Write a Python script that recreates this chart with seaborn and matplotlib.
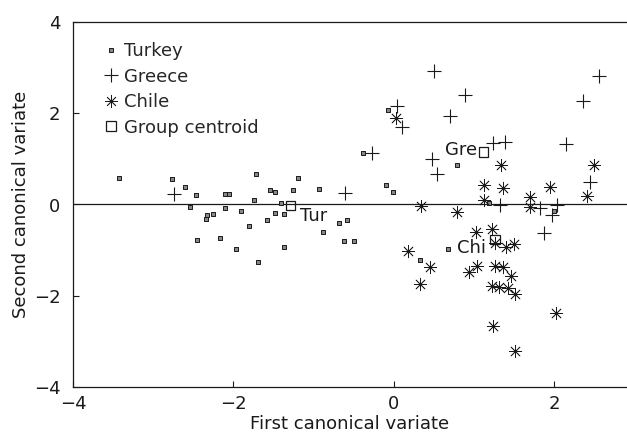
import numpy as np
import pandas as pd
import seaborn as sns
import matplotlib.pyplot as plt
from matplotlib.lines import Line2D

# values
turkey_x = [-3.43, -2.76, -2.61, -2.47, -2.54, -2.33, -2.26, -2.34, -2.11, -2.06,
            -2.11, -1.90, -1.72, -1.74, -1.55, -1.48, -1.26, -1.19, -0.94, -1.41,
            -1.48, -1.37, -1.58, -1.81, -2.45, -2.17, -1.97, -1.70, -1.37, -0.88,
            -0.68, -0.59, -0.62, -0.50, -0.07, -0.38, 0.78, -0.10, -0.01, 1.19,
            0.67, 0.32, 2.00]
turkey_y = [0.57, 0.56, 0.38, 0.21, -0.05, -0.24, -0.21, -0.32, 0.23, 0.23,
            -0.08, -0.14, 0.66, 0.09, 0.32, 0.27, 0.31, 0.58, 0.35, 0.03,
            -0.19, -0.21, -0.35, -0.47, -0.77, -0.73, -0.97, -1.25, -0.94, -0.61,
            -0.40, -0.35, -0.79, -0.81, 2.08, 1.13, 0.87, 0.43, 0.27, 0.03,
            -0.98, -1.21, -0.14]

greece_x = [0.50, 2.55, 0.89, 2.36, 0.04, 0.10, 0.70, 1.23, 1.39, 2.15,
            -0.27, 0.47, 0.54, -0.61, 2.44, -2.74, 1.32, 1.82, 2.03, 1.97, 1.87]
greece_y = [2.93, 2.82, 2.40, 2.27, 2.15, 1.69, 1.94, 1.35, 1.38, 1.32,
            1.13, 0.99, 0.67, 0.26, 0.50, 0.24, -0.01, -0.07, -0.01, -0.23, -0.63]

chile_x = [0.02, 1.33, 2.49, 1.12, 1.36, 1.94, 1.70, 2.41, 0.34, 0.79,
           1.12, 1.70, 1.02, 1.22, 1.26, 1.40, 1.50, 0.17, 0.45, 0.32,
           1.03, 0.94, 1.26, 1.36, 1.46, 1.22, 1.31, 1.42, 1.51, 2.02,
           1.23, 1.51]
chile_y = [1.90, 0.86, 0.86, 0.42, 0.37, 0.39, 0.17, 0.19, -0.03, -0.16,
           0.10, -0.05, -0.61, -0.54, -0.85, -0.94, -0.87, -1.02, -1.38, -1.74,
           -1.34, -1.49, -1.34, -1.36, -1.56, -1.78, -1.80, -1.83, -1.96, -2.38,
           -2.67, -3.22]

centroid_names = ["Tur", "Gre", "Chi"]
centroid_x = [-1.29, 1.12, 1.26]
centroid_y = [-0.02, 1.15, -0.76]

df = pd.concat([
    pd.DataFrame({"x": turkey_x, "y": turkey_y, "group": "Turkey"}),
    pd.DataFrame({"x": greece_x, "y": greece_y, "group": "Greece"}),
    pd.DataFrame({"x": chile_x, "y": chile_y, "group": "Chile"}),
])
cent = pd.DataFrame({"x": centroid_x, "y": centroid_y, "name": centroid_names})

sns.set_style("ticks")
plt.rcParams['font.family'] = ['DejaVu Sans']

fig = plt.figure(figsize=(6.27, 4.36), dpi=100)
ax = fig.add_axes([73 / 627, 49 / 436, 554 / 627, 365 / 436])

ink = "#1a1a1a"
sns.scatterplot(data=df[df.group == "Turkey"], x="x", y="y", ax=ax, marker="s",
                s=9, color="#888888", edgecolor=ink, linewidth=0.7, legend=False)
sns.scatterplot(data=df[df.group == "Greece"], x="x", y="y", ax=ax, marker="+",
                s=110, color=ink, linewidth=0.8, legend=False)
sns.scatterplot(data=df[df.group == "Chile"], x="x", y="y", ax=ax, marker=(8, 2, 0),
                s=80, color=ink, linewidth=0.55, legend=False)
sns.scatterplot(data=cent, x="x", y="y", ax=ax, marker="s", s=45,
                facecolor="none", edgecolor=ink, linewidth=0.9, legend=False)

# centroid labels
label_dx = [0.12, -0.48, -0.47]
label_dy = [-0.23, 0.04, -0.19]
for name, cx, cy, dx, dy in zip(centroid_names, centroid_x, centroid_y, label_dx, label_dy):
    ax.text(cx + dx, cy + dy, name, fontsize=13, color=ink, va="center", ha="left")

ax.axhline(0, color=ink, linewidth=0.9, zorder=0)

ax.set_xlim(-4, 2.905)
ax.set_ylim(-4, 4)
ax.set_xticks([-4, -2, 0, 2])
ax.set_yticks([-4, -2, 0, 2, 4])
ax.tick_params(direction="in", length=4, width=0.8, labelsize=13, colors=ink)
ax.tick_params(axis="y", pad=9)
ax.tick_params(axis="x", pad=6)
ax.set_xlabel("First canonical variate", fontsize=13, color=ink, labelpad=1)
ax.set_ylabel("Second canonical variate", fontsize=13, color=ink, labelpad=3)
for side in ["left", "bottom", "top"]:
    ax.spines[side].set_color(ink)
    ax.spines[side].set_linewidth(0.9)
ax.spines["right"].set_visible(False)

handles = [
    Line2D([], [], marker="s", linestyle="none", markersize=3, markerfacecolor="#888888",
           markeredgecolor=ink, markeredgewidth=0.7),
    Line2D([], [], marker="+", linestyle="none", markersize=10, color=ink, markeredgewidth=0.8),
    Line2D([], [], marker=(8, 2, 0), linestyle="none", markersize=9, color=ink, markeredgewidth=0.55),
    Line2D([], [], marker="s", linestyle="none", markersize=6.5, markerfacecolor="none",
           markeredgecolor=ink, markeredgewidth=0.9),
]
ax.legend(handles, ["Turkey", "Greece", "Chile", "Group centroid"], loc="upper left",
          bbox_to_anchor=(0.043, 0.965), frameon=False, fontsize=13, handlelength=0.8,
          handletextpad=0.3, labelspacing=0.42, borderaxespad=0)

fig.savefig("out.png", dpi=100)
